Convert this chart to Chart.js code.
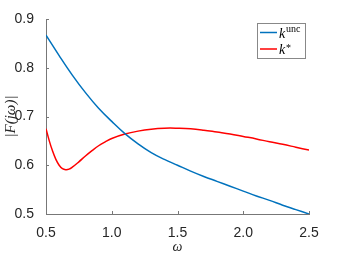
<!DOCTYPE html>
<html lang="en">
<head>
    <meta charset="UTF-8" />
    <title>|F(jw)|</title>
    <script src="https://cdn.jsdelivr.net/npm/chart.js"></script>
    <style>
        html, body { margin: 0; padding: 0; background: #fff; }
        #grafico { display: block; }
    </style>
</head>
<body>
    <canvas id="grafico" width="342" height="257"></canvas>
<script>
    // frequencias e valores
    const omegaUnc = [0.5, 0.6, 0.7, 0.8, 0.9, 1.0, 1.1, 1.2, 1.3, 1.4, 1.5, 1.6, 1.7, 1.8, 1.9, 2.0, 2.1, 2.2, 2.3, 2.4, 2.5];
    const valoresUnc = [0.867, 0.825, 0.785, 0.749, 0.717, 0.690, 0.665, 0.644, 0.626, 0.612, 0.600, 0.588, 0.577, 0.567, 0.557, 0.547, 0.537, 0.528, 0.518, 0.509, 0.500];

    const omegaStar = [0.5, 0.525, 0.55, 0.575, 0.6, 0.625, 0.65, 0.675, 0.7, 0.75, 0.8, 0.85, 0.9, 0.95, 1.0, 1.1, 1.2, 1.3, 1.4, 1.5, 1.6, 1.7, 1.8, 1.9, 2.0, 2.1, 2.2, 2.3, 2.4, 2.5];
    const valoresStar = [0.675, 0.650, 0.629, 0.612, 0.600, 0.593, 0.591, 0.592, 0.596, 0.607, 0.619, 0.630, 0.640, 0.648, 0.655, 0.664, 0.670, 0.674, 0.676, 0.676, 0.675, 0.672, 0.668, 0.664, 0.659, 0.654, 0.648, 0.643, 0.637, 0.631];

    const ticksX = [0.5, 1, 1.5, 2, 2.5];
    const ticksY = [0.5, 0.6, 0.7, 0.8, 0.9];

    const corAzul = '#0072BD';
    const corVermelha = '#FF0000';

    function montarPontos(xs, ys) {
        const pts = [];
        for (let i = 0; i < xs.length; i++) {
            pts.push({ x: xs[i], y: ys[i] });
        }
        return pts;
    }

    // marcas dos ticks para dentro, como no matlab
    const ticksDentro = {
        id: 'ticksDentro',
        afterDraw(chart) {
            const ctx = chart.ctx;
            const sx = chart.scales.x;
            const sy = chart.scales.y;
            ctx.save();
            ctx.strokeStyle = '#777';
            ctx.lineWidth = 1;
            ctx.beginPath();
            ticksX.forEach(v => {
                const px = Math.round(sx.getPixelForValue(v)) + 0.5;
                ctx.moveTo(px, sy.bottom);
                ctx.lineTo(px, sy.bottom - 3);
            });
            ticksY.forEach(v => {
                const py = Math.round(sy.getPixelForValue(v)) + 0.5;
                ctx.moveTo(sx.left, py);
                ctx.lineTo(sx.left + 3, py);
            });
            ctx.stroke();
            ctx.restore();
        }
    };

    // legenda com sobrescrito
    const legendaK = {
        id: 'legendaK',
        afterDraw(chart) {
            const ctx = chart.ctx;
            ctx.save();
            ctx.fillStyle = '#fff';
            ctx.fillRect(257, 23, 48, 35);
            ctx.strokeStyle = '#888';
            ctx.lineWidth = 1;
            ctx.strokeRect(257.5, 23.5, 48, 35);

            const itens = [
                { cor: corAzul, y: 32.5, sup: 'unc', dy: -1 },
                { cor: corVermelha, y: 49, sup: '*', dy: 2 }
            ];
            itens.forEach(it => {
                ctx.strokeStyle = it.cor;
                ctx.lineWidth = 1.5;
                ctx.beginPath();
                ctx.moveTo(260, it.y);
                ctx.lineTo(277, it.y);
                ctx.stroke();

                ctx.fillStyle = '#000';
                ctx.textBaseline = 'alphabetic';
                ctx.font = 'italic 14px "Liberation Serif"';
                ctx.fillText('k', 279, it.y + 5);
                ctx.font = '10px "Liberation Serif"';
                ctx.fillText(it.sup, 286, it.y + it.dy);
            });
            ctx.restore();
        }
    };

    const config = {
        type: 'line',
        data: {
            datasets: [{
                label: 'k unc',
                data: montarPontos(omegaUnc, valoresUnc),
                borderColor: corAzul,
                borderWidth: 1.5,
                pointRadius: 0,
                tension: 0.4,
                fill: false
            }, {
                label: 'k*',
                data: montarPontos(omegaStar, valoresStar),
                borderColor: corVermelha,
                borderWidth: 1.5,
                pointRadius: 0,
                tension: 0.4,
                fill: false
            }]
        },
        options: {
            responsive: false,
            animation: false,
            events: [],
            layout: { padding: { top: 19, right: 33, left: 0, bottom: 0 } },
            plugins: {
                legend: { display: false },
                tooltip: { enabled: false }
            },
            scales: {
                x: {
                    type: 'linear',
                    min: 0.5,
                    max: 2.5,
                    afterFit: s => { s.height = 43; },
                    afterBuildTicks: s => { s.ticks = ticksX.map(v => ({ value: v })); },
                    grid: { display: false },
                    border: { display: true, color: '#777', width: 1 },
                    ticks: {
                        color: '#262626',
                        padding: 3,
                        maxRotation: 0,
                        font: { family: '"Liberation Sans", Arial', size: 14 }
                    },
                    title: {
                        display: true,
                        text: 'ω',
                        color: '#262626',
                        padding: { top: 0, bottom: 1 },
                        font: { family: '"Liberation Serif"', style: 'italic', size: 14 }
                    }
                },
                y: {
                    min: 0.5,
                    max: 0.9,
                    afterFit: s => { s.width = 46; },
                    afterBuildTicks: s => { s.ticks = ticksY.map(v => ({ value: v })); },
                    grid: { display: false },
                    border: { display: true, color: '#777', width: 1 },
                    ticks: {
                        color: '#262626',
                        padding: 4,
                        font: { family: '"Liberation Sans", Arial', size: 14 }
                    },
                    title: {
                        display: true,
                        text: '|F(jω)|',
                        color: '#262626',
                        padding: { top: 2, bottom: 0 },
                        font: { family: '"Liberation Serif"', style: 'italic', size: 15 }
                    }
                }
            }
        },
        plugins: [ticksDentro, legendaK]
    };

    const grafico = new Chart(document.getElementById('grafico'), config);
</script>
</body>
</html>
